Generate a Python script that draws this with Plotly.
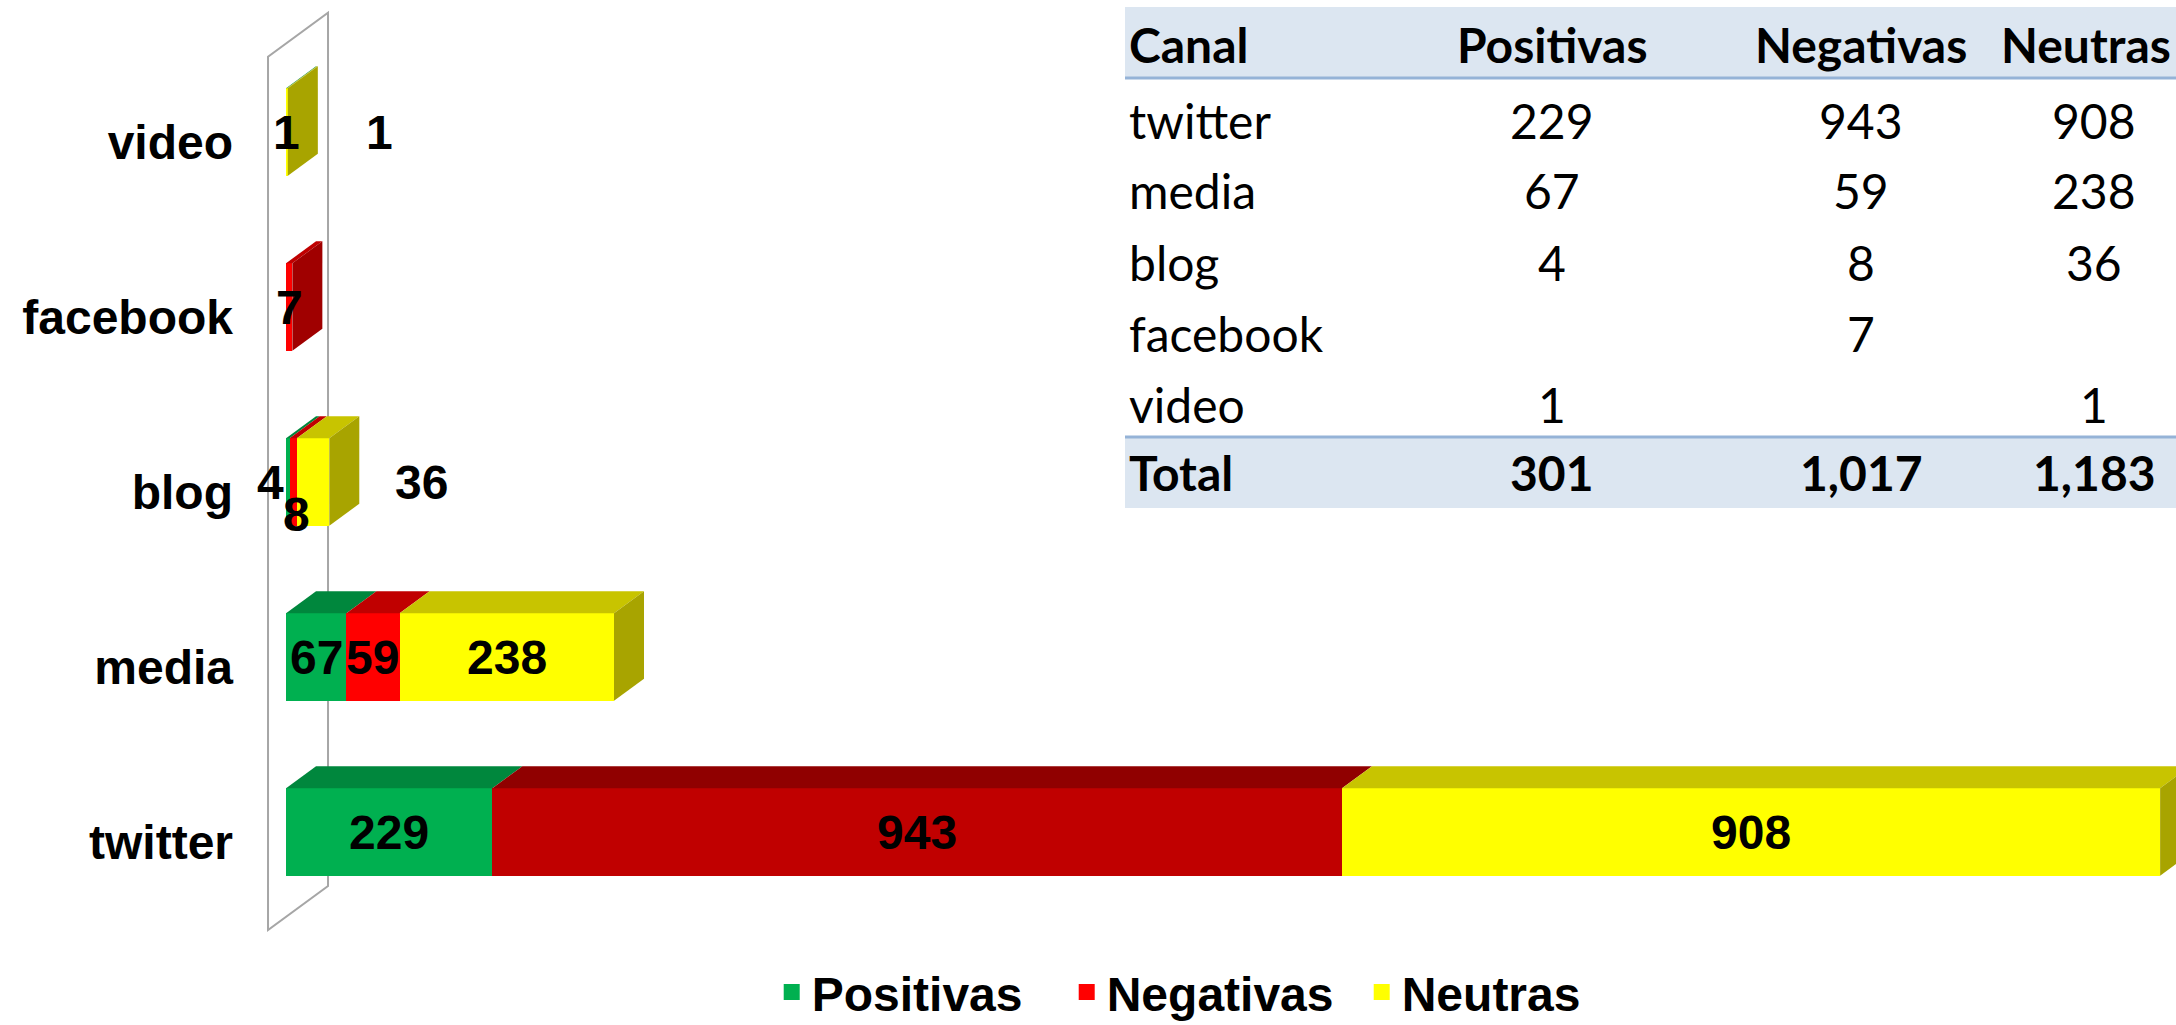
import plotly.graph_objects as go

# ---------------- data ----------------
categories = ["twitter", "media", "blog", "facebook", "video"]
series_names = ["Positivas", "Negativas", "Neutras"]
positivas = [229, 67, 4, 0, 1]
negativas = [943, 59, 8, 7, 0]
neutras = [908, 238, 36, 0, 1]
table_header = ["Canal", "Positivas", "Negativas", "Neutras"]
total_label = "Total"

values = [positivas, negativas, neutras]

# ---------------- styles ----------------
FRONT = ["#00B050", "#FF0000", "#FFFF00"]
TOP = ["#00873D", "#C00000", "#C8C400"]
SIDE = ["#006A30", "#A00000", "#A8A400"]
OVERRIDE = {(1, 0): ("#C00000", "#900000", "#780000")}  # twitter / Negativas

W, H = 2176, 1025
ML, MR, MT, MB = 250, 0, 10, 85
PLOT_W = W - ML - MR
PLOT_H = H - MT - MB
PX_PER_X = 0.901
X0 = -40
X1 = X0 + PLOT_W / PX_PER_X
PX_PER_Y = 175.0
CAT0_PX = 832
Y1 = (CAT0_PX - MT) / PX_PER_Y
Y0 = (CAT0_PX - (H - MB)) / PX_PER_Y
DX = 30 / PX_PER_X
DY = 22 / PX_PER_Y
BAR_W = 0.5
FS_LABEL = 48
ARIAL = "Liberation Sans, Arial, sans-serif"
CALIBRI = "Lato, Carlito, Calibri, sans-serif"


def colors(s, i):
    return OVERRIDE.get((s, i), (FRONT[s], TOP[s], SIDE[s]))


fig = go.Figure()
shapes = []

# wall (left plane of the 3D box)
WALL_X = -20
WALL_YB, WALL_YT = -0.56, 4.43
shapes.append(dict(
    type="path",
    xref="x", yref="y",
    path=(f"M {WALL_X},{WALL_YB} L {WALL_X},{WALL_YT} "
          f"L {WALL_X + 2 * DX},{WALL_YT + 2 * DY} L {WALL_X + 2 * DX},{WALL_YB + 2 * DY} Z"),
    line=dict(color="#A6A6A6", width=2),
    fillcolor="white",
    layer="below",
))

ypos = list(range(len(categories)))

# front faces (stacked bars)
for s, name in enumerate(series_names):
    fig.add_trace(go.Bar(
        y=ypos, x=values[s], orientation="h", name=name,
        marker=dict(color=[colors(s, i)[0] for i in ypos], line=dict(width=0)),
        width=BAR_W, showlegend=False, hoverinfo="skip",
    ))

# top and side faces
for i in ypos:
    base = 0
    last = None
    yb, yt = i - BAR_W / 2, i + BAR_W / 2
    for s in range(len(series_names)):
        v = values[s][i]
        if v <= 0:
            continue
        x0, x1 = base, base + v
        fig.add_trace(go.Scatter(
            x=[x0, x1, x1 + DX, x0 + DX, x0], y=[yt, yt, yt + DY, yt + DY, yt],
            fill="toself", fillcolor=colors(s, i)[1], mode="lines",
            line=dict(width=0, color=colors(s, i)[1]), showlegend=False, hoverinfo="skip",
        ))
        last = (s, x1)
        base = x1
    if last:
        s, x1 = last
        fig.add_trace(go.Scatter(
            x=[x1, x1, x1 + DX, x1 + DX, x1], y=[yb, yt, yt + DY, yb + DY, yb],
            fill="toself", fillcolor=colors(s, i)[2], mode="lines",
            line=dict(width=0, color=colors(s, i)[2]), showlegend=False, hoverinfo="skip",
        ))

# legend entries
for s, name in enumerate(series_names):
    fig.add_trace(go.Scatter(x=[None], y=[None], name=name, mode="markers",
                             marker=dict(color=FRONT[s], symbol="square", size=16),
                             showlegend=True))

# data labels
annotations = []
for i in ypos:
    base = 0
    total = sum(values[s][i] for s in range(3))
    small_prev = False
    for s in range(3):
        v = values[s][i]
        if v <= 0:
            continue
        txt = str(v)
        lab_px = len(txt) * 0.556 * FS_LABEL
        seg_px = v * PX_PER_X
        small = seg_px < lab_px
        x = base + v / 2
        xshift, yshift = 0, 0
        if small:
            if s == 2:
                x = total
                xshift = 92
            elif s == 1 and small_prev:
                yshift = -32
                xshift = 3
            elif s == 0 and values[1][i] > 0 and values[1][i] * PX_PER_X < FS_LABEL:
                xshift = -17
        annotations.append(dict(
            x=x, y=i, xref="x", yref="y", text=txt, showarrow=False,
            xanchor="center", xshift=xshift, yshift=yshift,
            font=dict(family=ARIAL, size=FS_LABEL, color="black", weight="bold"),
        ))
        small_prev = small
        base += v


# ---------------- table ----------------
def px2paper_x(px):
    return (px - ML) / PLOT_W


def px2paper_y(py):
    return (H - MB - py) / PLOT_H


TAB_LEFT = 1125
COL_X = [1127, 1552, 1861, 2094]
HEAD_Y = 45
ROW0_Y = 120
ROW_PITCH = 71
BAND_H = 71
TAB_FS = 48

head_top = 7
tot_top = 437
for top in (head_top, tot_top):
    shapes.append(dict(type="rect", xref="paper", yref="paper",
                       x0=px2paper_x(TAB_LEFT), x1=px2paper_x(W),
                       y0=px2paper_y(top + BAND_H), y1=px2paper_y(top),
                       fillcolor="#DCE6F1", line=dict(width=0), layer="below"))
for ly in (head_top + BAND_H, tot_top):
    shapes.append(dict(type="line", xref="paper", yref="paper",
                       x0=px2paper_x(TAB_LEFT), x1=px2paper_x(W),
                       y0=px2paper_y(ly), y1=px2paper_y(ly),
                       line=dict(color="#95B3D7", width=3)))


def cell(text, col, py, bold, anchor=None, px=None):
    if anchor is None:
        anchor = "left" if col == 0 else "center"
    annotations.append(dict(
        x=px2paper_x(COL_X[col] if px is None else px), y=px2paper_y(py),
        xref="paper", yref="paper",
        text=text, showarrow=False, xanchor=anchor, yanchor="middle",
        font=dict(family=CALIBRI, size=TAB_FS, color="black", weight="bold" if bold else "normal"),
    ))


for c, h in enumerate(table_header):
    if c == len(table_header) - 1:
        cell(h, c, HEAD_Y, True, anchor="right", px=W - 3)
    else:
        cell(h, c, HEAD_Y, True)
for r, cat in enumerate(categories):
    py = ROW0_Y + r * ROW_PITCH
    cell(cat, 0, py, False)
    for s in range(3):
        v = values[s][r]
        cell(f"{v:,}" if v else "", s + 1, py, False)
tot_y = tot_top + BAND_H / 2
cell(total_label, 0, tot_y, True)
for s in range(3):
    cell(f"{sum(values[s]):,}", s + 1, tot_y, True)

fig.update_layout(
    width=W, height=H,
    margin=dict(l=ML, r=MR, t=MT, b=MB, autoexpand=False),
    barmode="stack",
    bargap=0,
    plot_bgcolor="rgba(0,0,0,0)", paper_bgcolor="white",
    xaxis=dict(range=[X0, X1], visible=False, fixedrange=True, automargin=False),
    yaxis=dict(range=[Y0, Y1], tickmode="array", tickvals=ypos, ticktext=categories,
               showgrid=False, zeroline=False, showline=False, ticks="", automargin=False,
               ticklabelstandoff=16, ticklabelshift=10,
               tickfont=dict(family=ARIAL, size=FS_LABEL, color="black", weight="bold")),
    legend=dict(orientation="h", xref="container", yref="container", x=0.558, y=0.032,
                xanchor="center", yanchor="middle", traceorder="normal",
                entrywidth=250, entrywidthmode="pixels",
                font=dict(family=ARIAL, size=FS_LABEL, color="black", weight="bold"),
                bgcolor="rgba(0,0,0,0)"),
    showlegend=True,
)
fig.layout.shapes = shapes
fig.layout.annotations = annotations

fig.write_html("out.html", config={"displayModeBar": False},
               post_script="document.body.style.margin='0';")
